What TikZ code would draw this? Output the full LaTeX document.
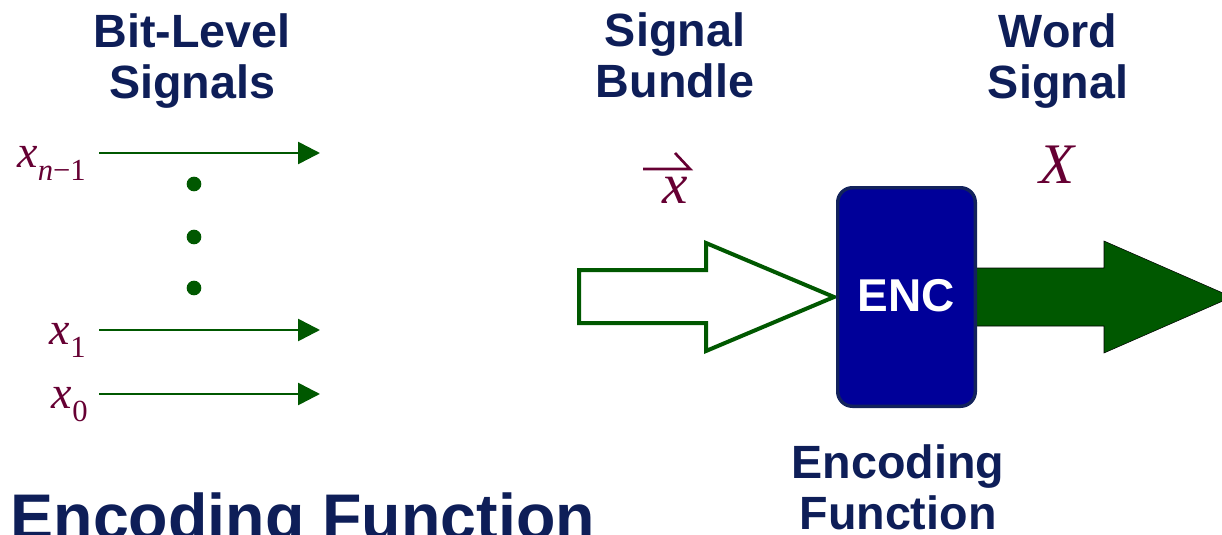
\documentclass[tikz,border=0pt]{standalone}
\usepackage{fontspec}
\setmainfont{Liberation Sans}
\newfontfamily\tms{Liberation Serif}
\usetikzlibrary{arrows.meta,calc}

\definecolor{navy}{RGB}{14,30,88}
\definecolor{sgreen}{RGB}{0,88,0}
\definecolor{encblue}{RGB}{0,0,153}
\definecolor{encedge}{RGB}{18,34,92}
\definecolor{maroon}{RGB}{102,0,51}

% lowered subscript for the bit labels
\newcommand\bitsub[1]{\raisebox{-9.75pt}{\fontsize{23}{23}\selectfont #1}}

\begin{document}
\begin{tikzpicture}[x=0.75pt,y=-0.75pt,
  head/.style={font=\bfseries\fontsize{35}{38.25}\selectfont, text=navy,
    align=center, inner sep=0pt, anchor=north},
  bigtitle/.style={font=\bfseries\fontsize{48.4}{50}\selectfont, text=navy,
    inner sep=0pt, anchor=base west},
  bitline/.style={draw=sgreen, line width=2pt,
    -{Triangle[length=16.5pt,width=16.5pt]}},
  bitlabel/.style={text=maroon, inner sep=0pt, anchor=base east,
    font=\tms\fontsize{34.5}{34.5}\selectfont},
  mathlabel/.style={text=maroon, inner sep=0pt, anchor=base,
    font=\tms\itshape\fontsize{43}{43}\selectfont},
  dotmark/.style={circle, fill=sgreen, inner sep=0pt, minimum size=11pt},
  hollowarrow/.style={draw=sgreen, line width=3pt, fill=white},
  solidarrow/.style={fill=sgreen},
  encbox/.style={draw=encedge, line width=2.6pt, fill=encblue,
    rounded corners=11pt, minimum width=103.15pt, minimum height=163.9pt,
    inner sep=0pt, text=white, font=\bfseries\fontsize{34.5}{34.5}\selectfont},
  vecbar/.style={draw=maroon, line width=2pt, line join=miter}
]
\useasboundingbox (0,0) rectangle (1222,535);
\clip (0,0) rectangle (1222,535);

% column headings
\node[head] (hbits)   at (192,13.3) {Bit-Level\\Signals};
\node[head] (hbundle) at (675,12.2) {Signal\\Bundle};
\node[head] (hword)   at (1058,13.3) {Word\\Signal};
\node[head] (henc)    at (898,444)  {Encoding\\Function};
\node[bigtitle] (title) at (10.3,539.2) {Encoding Function};

% individual bit signals
\node[bitlabel] (lxn) at (86,167) {\itshape x\bitsub{{\itshape n}\upshape −1}};
\node[bitlabel] (lx1) at (86,344) {\itshape x\bitsub{\upshape 1}};
\node[bitlabel] (lx0) at (88,408) {\itshape x\bitsub{\upshape 0}};

\coordinate (sn) at (99,153);  \coordinate (en) at (320,153);
\coordinate (s1) at (99,330);  \coordinate (e1) at (320,330);
\coordinate (s0) at (99,394);  \coordinate (e0) at (320,394);
\draw[bitline] (sn) -- (en);
\draw[bitline] (s1) -- (e1);
\draw[bitline] (s0) -- (e0);

\node[dotmark] (d1) at (194,184) {};
\node[dotmark] (d2) at (194,237) {};
\node[dotmark] (d3) at (194,288) {};

% encoder block and its block arrows
\coordinate (encc) at (906.5,297);
\coordinate (intip) at (834,297);
\draw[solidarrow] (960,268) -- (1104,268) -- (1104,241) -- (1232,297)
  -- (1104,353) -- (1104,326) -- (960,326) -- cycle;
\draw[hollowarrow] ($(intip)+(-255,-27)$) -- ($(intip)+(-128,-27)$)
  -- ($(intip)+(-128,-54)$) -- (intip) -- ($(intip)+(-128,54)$)
  -- ($(intip)+(-128,26)$) -- ($(intip)+(-255,26)$) -- cycle;
\node[encbox] (enc) at (encc) {\raisebox{2.25pt}{ENC}};

% bundle and word labels
\node[mathlabel] (vx) at (675,203) {x};
\draw[vecbar] ($(vx.base)+(0,-50)$) -- ($(vx.base)+(15,-34)$)
  -- ($(vx.base)+(-32,-34)$);
\node[mathlabel] (wx) at (1057,184) {X};
\end{tikzpicture}
\end{document}
